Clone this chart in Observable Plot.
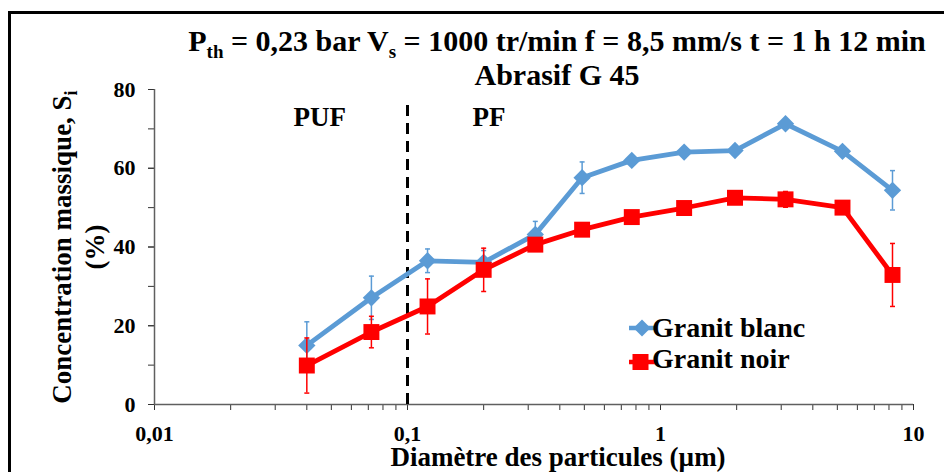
<!DOCTYPE html>
<html>
<head>
<meta charset="utf-8">
<script src="https://cdn.jsdelivr.net/npm/d3@7"></script>
<script src="https://cdn.jsdelivr.net/npm/@observablehq/plot@0.6"></script>
<style>
  html, body { margin: 0; padding: 0; background: white; }
  #wrap { position: relative; width: 944px; height: 472px; overflow: hidden; background: white;
          font-family: 'Liberation Serif', 'Times New Roman', serif; font-weight: bold; color: black; }
  #frame { position: absolute; left: 8px; top: 11px; width: 1000px; height: 1000px; border: 3px solid black; box-sizing: border-box; }
  .tline { position: absolute; left: 157px; width: 800px; text-align: center; font-size: 30px; line-height: 30px; white-space: nowrap; }
  .sub { font-size: 19px; position: relative; top: 7px; }
  #chart { position: absolute; left: 0; top: 74px; }
  .leg { position: absolute; font-size: 28px; line-height: 28px; white-space: nowrap; }
  .legsym { position: absolute; }
</style>
</head>
<body>
<div id="wrap">
  <div id="frame"></div>
  <div class="tline" style="top:26px">P<span class="sub">th</span> = 0,23 bar V<span class="sub">s</span> = 1000 tr/min f = 8,5 mm/s t = 1 h 12 min</div>
  <div class="tline" style="top:60px">Abrasif G 45</div>
  <div id="chart"></div>
  <svg class="legsym" style="left:629px;top:318px" width="26" height="20">
    <line x1="0" y1="10" x2="26" y2="10" stroke="#5B9BD5" stroke-width="4.5"></line>
    <path d="M13,1.5L21.5,10L13,18.5L4.5,10Z" fill="#5B9BD5"></path>
  </svg>
  <div class="leg" style="left:652px;top:313.5px">Granit blanc</div>
  <svg class="legsym" style="left:629px;top:352px" width="26" height="20">
    <line x1="0" y1="10" x2="26" y2="10" stroke="#FF0000" stroke-width="4.5"></line>
    <rect x="3.5" y="2" width="16" height="16" fill="#FF0000"></rect>
  </svg>
  <div class="leg" style="left:652px;top:345px">Granit noir</div>
</div>
<script>
// Particle diameters (µm)
const sizes = [0.04, 0.072, 0.12, 0.2, 0.32, 0.49, 0.77, 1.24, 1.97, 3.12, 5.24, 8.26];
// Granit blanc
const blanc = [15.0, 27.1, 36.5, 36.1, 43.2, 57.6, 62.0, 64.1, 64.5, 71.3, 64.3, 54.4];
const blancErr = [6, 5.5, 3, 3, 3.3, 4, 1, 1, 1, 1, 1, 5];
// Granit noir
const noir = [9.9, 18.4, 24.9, 34.2, 40.6, 44.4, 47.6, 49.9, 52.5, 52.1, 50.0, 32.9];
const noirErr = [7, 4, 7, 5.5, 1, 1, 1, 1, 1, 2, 1, 8];

const xTickLabels = [0.01, 0.1, 1, 10];
const yTickLabels = [0, 20, 40, 60, 80];
const yMinorTicks = [0, 10, 20, 30, 40, 50, 60, 70, 80];
const xDomain = [0.01, 10];
const yDomain = [0, 80];

const regionLabels = ["PUF", "PF"];
const regionLabelX = [0.045, 0.21];
const regionLabelY = [73, 73];
const dividerX = 0.1;
const dividerTop = 77;

const xLabel = "Diamètre des particules (µm)";
const yLabel = "Concentration massique, S";
const yLabel2 = "(%)";

const blue = "#5B9BD5", red = "#FF0000";

const blancData = sizes.map((x, i) => ({x, y: blanc[i], e: blancErr[i]}));
const noirData = sizes.map((x, i) => ({x, y: noir[i], e: noirErr[i]}));
const regions = regionLabels.map((t, i) => ({t, x: regionLabelX[i], y: regionLabelY[i]}));

const xMinor = d3.scaleLog().domain(xDomain).ticks();
const fmt = d => String(d).replace(".", ",");

const cap = { draw(ctx) { ctx.moveTo(-2.5, 0); ctx.lineTo(2.5, 0); } };

function series(data, color, symbol, r) {
  return [
    Plot.ruleX(data, {x: "x", y1: d => d.y - d.e, y2: d => d.y + d.e, stroke: color, strokeWidth: 1.5}),
    Plot.dot(data, {x: "x", y: d => d.y + d.e, symbol: cap, stroke: color, strokeWidth: 1.5}),
    Plot.dot(data, {x: "x", y: d => d.y - d.e, symbol: cap, stroke: color, strokeWidth: 1.5}),
    Plot.line(data, {x: "x", y: "y", stroke: color, strokeWidth: 4.8}),
    Plot.dot(data, {x: "x", y: "y", symbol, r, fill: color, stroke: "none"})
  ];
}

const chart = Plot.plot({
  width: 944,
  height: 398,
  marginTop: 15,
  marginBottom: 68,
  marginLeft: 154,
  marginRight: 31,
  x: {type: "log", domain: xDomain},
  y: {domain: yDomain},
  style: {background: "transparent", overflow: "visible", fontFamily: "'Liberation Serif', 'Times New Roman', serif", fontWeight: "bold", fontSize: "22px", color: "black"},
  marks: [
    Plot.axisX({ticks: xMinor, tickFormat: () => "", tickSize: 6, stroke: "#333", label: null}),
    Plot.axisX({ticks: xTickLabels, tickFormat: fmt, tickSize: 6, tickPadding: 15, stroke: "#333", fill: "black", label: null}),
    Plot.axisY({ticks: yMinorTicks, tickFormat: () => "", tickSize: 6, stroke: "#333", label: null}),
    Plot.axisY({ticks: yTickLabels, tickSize: 6, tickPadding: 13, stroke: "#333", fill: "black", label: null}),
    Plot.ruleY([yDomain[0]], {stroke: "#5f5f5f", strokeWidth: 1.5}),
    Plot.ruleX([xDomain[0]], {stroke: "#5f5f5f", strokeWidth: 1.5}),
    Plot.ruleX([dividerX], {y1: yDomain[0], y2: dividerTop, stroke: "black", strokeWidth: 3, strokeDasharray: "11,7"}),
    Plot.text(regions, {x: "x", y: "y", text: "t", fontSize: 27, fill: "black"}),
    ...series(blancData, blue, "diamond2", 7.8),
    ...series(noirData, red, "square", 9),
    Plot.text([xLabel], {text: d => d, frameAnchor: "bottom", textAnchor: "middle", lineAnchor: "bottom", dx: 24, dy: 61, fontSize: 27, fill: "black"}),
    Plot.text([yLabel], {text: d => d, frameAnchor: "left", textAnchor: "middle", lineAnchor: "middle", rotate: -90, dx: -92, fontSize: 27, fill: "black"}),
    Plot.text([yLabel2], {text: d => d, frameAnchor: "left", textAnchor: "middle", lineAnchor: "middle", rotate: -90, dx: -59, fontSize: 27, fill: "black"})
  ]
});

for (const t of chart.querySelectorAll("text")) {
  if (t.textContent === yLabel) {
    const ts = document.createElementNS("http://www.w3.org/2000/svg", "tspan");
    ts.setAttribute("dy", "0.3em");
    ts.setAttribute("font-size", "18");
    ts.textContent = "i";
    t.appendChild(ts);
  }
}
const tickTexts = new Set([...xTickLabels.map(fmt), ...yTickLabels.map(String)]);
for (const t of chart.querySelectorAll("text")) {
  if (tickTexts.has(t.textContent)) {
    t.style.fontSize = "22px";
  }
}

document.getElementById("chart").appendChild(chart);
</script>
</body>
</html>
